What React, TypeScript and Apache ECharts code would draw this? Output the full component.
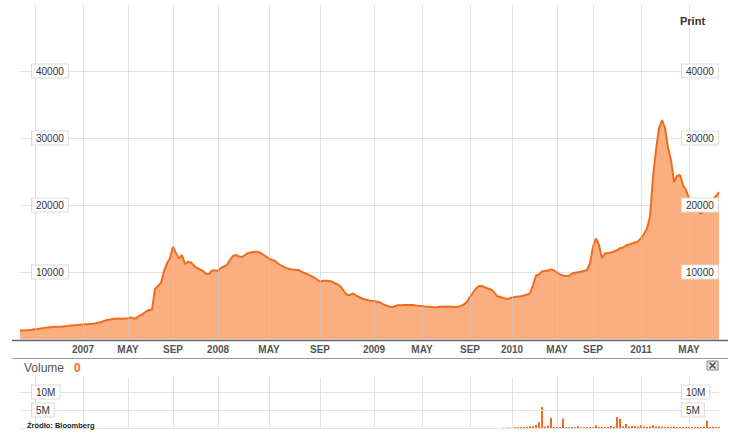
import React, { useEffect, useRef } from 'react';
import * as echarts from 'echarts';

// Price series: one value per sample (evenly spaced trading-time samples)
const prices: number[] = [
  1270, 1270, 1300, 1340, 1390, 1450, 1490, 1570, 1640, 1700,
  1750, 1790, 1820, 1840, 1870, 1910, 1940, 2010, 2060, 2090,
  2130, 2160, 2210, 2240, 2280, 2330, 2420, 2540, 2690, 2840,
  2900, 2990, 3040, 3060, 3040, 3070, 3060, 3210, 2990, 3210,
  3510, 3730, 4100, 4330, 4400, 7460, 7910, 8360, 10150, 11300,
  12040, 13780, 12790, 12010, 12540, 11190, 11540, 11420, 10970, 10600,
  10370, 10150, 9700, 9700, 10220, 10220, 10190, 10600, 10820, 11040,
  11790, 12390, 12540, 12310, 12240, 12540, 12840, 12910, 13030, 13030,
  12880, 12610, 12310, 12010, 11790, 11640, 11270, 10970, 10750, 10550,
  10400, 10360, 10300, 10300, 10000, 9810, 9630, 9400, 9180, 8880,
  8550, 8700, 8700, 8660, 8580, 8280, 8130, 7760, 7160, 6570,
  6570, 6820, 6490, 6270, 6040, 5900, 5790, 5720, 5670, 5570,
  5450, 5220, 5000, 4850, 4730, 4930, 5030, 5040, 5070, 5070,
  5070, 5070, 5000, 4960, 4930, 4850, 4820, 4780, 4730, 4730,
  4800, 4820, 4850, 4820, 4820, 4790, 4820, 4930, 5150, 5570,
  6270, 6940, 7540, 7910, 7910, 7690, 7540, 7390, 7010, 6420,
  6270, 6120, 6010, 6040, 6190, 6270, 6340, 6390, 6490, 6640,
  6820, 8060, 9480, 9630, 10070, 10150, 10220, 10400, 10220, 9930,
  9630, 9480, 9400, 9400, 9780, 9900, 9970, 10030, 10150, 10300,
  11300, 13780, 15000, 14030, 12040, 12790, 12840, 12910, 13060, 13280,
  13540, 13660, 13950, 14100, 14250, 14400, 14550, 15070, 15670, 16520,
  18250, 24180, 28210, 31490, 32690, 31490, 28510, 26720, 23430, 24330,
  24480, 22990, 22240, 21040, 20450, 19850, 19250, 18660, 19250, 19850,
  20450, 20900, 21340, 21940,
];

// Volume in millions, same samples
const volumesM: number[] = [
  0, 0, 0, 0, 0, 0, 0, 0, 0, 0, 0, 0, 0, 0, 0, 0, 0, 0, 0, 0,
  0, 0, 0, 0, 0, 0, 0, 0, 0, 0, 0, 0, 0, 0, 0, 0, 0, 0, 0, 0,
  0, 0, 0, 0, 0, 0, 0, 0, 0, 0, 0, 0, 0, 0, 0, 0, 0, 0, 0, 0,
  0, 0, 0, 0, 0, 0, 0, 0, 0, 0, 0, 0, 0, 0, 0, 0, 0, 0, 0, 0,
  0, 0, 0, 0, 0, 0, 0, 0, 0, 0, 0, 0, 0, 0, 0, 0, 0, 0, 0, 0,
  0, 0, 0, 0, 0, 0, 0, 0, 0, 0, 0, 0, 0, 0, 0, 0, 0, 0, 0, 0,
  0, 0, 0, 0, 0, 0, 0, 0, 0, 0, 0, 0, 0, 0, 0, 0, 0, 0, 0, 0,
  0, 0, 0, 0, 0, 0, 0, 0, 0, 0, 0, 0, 0, 0, 0, 0, 0, 0, 0, 0,
  0,
  0.1, 0.1, 0.15, 0.1, 0.2, 0.3, 0.25, 0.3, 0.35, 0.5,
  0.5, 0.8, 1.6, 5.8, 0.4, 0.65, 2.8, 0.3, 0.25, 0.3,
  2.6, 0.2, 0.2, 0.25, 0.2, 0.55, 0.2, 0.2, 0.25, 0.3,
  0.2, 0.75, 0.3, 0.3, 0.25, 0.3, 0.55, 0.35, 3.0, 2.5,
  0.4, 1.1, 0.4, 0.55, 0.55, 0.35, 0.75, 0.4, 0.3, 0.4,
  0.75, 0.4, 0.5, 0.35, 0.3, 0.35, 0.3, 0.4, 0.3, 0.25,
  0.3, 0.35, 0.25, 0.3, 0.3, 0.25, 0.3, 0.4, 2.0, 0.3,
  0.35, 0.3, 0.3,
];

// Sample index of each month gridline and its label
const tickIndex: number[] = [5, 21, 36, 51, 66, 83, 100, 118, 134, 150, 164, 179, 191, 207, 223];
const tickLabels: string[] = ['', '2007', 'MAY', 'SEP', '2008', 'MAY', 'SEP', '2009', 'MAY', 'SEP', '2010', 'MAY', 'SEP', '2011', 'MAY'];

const FONT = '"Liberation Sans", Arial, Helvetica, sans-serif';
const LINE = '#f26b1d';
const FILL = '#fbaf80';

export default function App() {
  const ref = useRef<HTMLDivElement>(null);
  useEffect(() => {
    const chart = echarts.init(ref.current!, null, { renderer: 'svg' });
    const categories = prices.map((_, i) => {
      const k = tickIndex.indexOf(i);
      return k >= 0 ? tickLabels[k] : '';
    });
    const isTick = (i: number) => tickIndex.includes(i);
    const labelBox = {
      color: '#333',
      fontFamily: FONT,
      fontSize: 10,
      lineHeight: 11,
      backgroundColor: '#fff',
      borderColor: '#dcdcdc',
      borderWidth: 1,
      padding: [1, 4, 1, 4],
    };
    const plain = (v: number) => String(v);
    const mil = (v: number) => v + 'M';
    const vSplit = { show: true, interval: isTick, lineStyle: { color: '#c8c8c8', opacity: 0.55, width: 1 } };
    const hide = { show: false };
    chart.setOption({
      animation: false,
      grid: [
        { left: 20, right: 23, top: 4, height: 335 },
        { left: 20, right: 23, top: 377.6, height: 50.4 },
      ],
      xAxis: [
        {
          type: 'category', gridIndex: 0, data: categories, boundaryGap: false, z: 3,
          axisLine: hide, axisTick: hide,
          axisLabel: { interval: isTick, color: '#555', fontFamily: FONT, fontWeight: 'bold', fontSize: 10, margin: 5 },
          splitLine: vSplit,
        },
        {
          type: 'category', gridIndex: 1, data: categories, boundaryGap: false, z: 3,
          axisLine: hide, axisTick: hide, axisLabel: hide,
          splitLine: vSplit,
        },
      ],
      yAxis: [
        {
          type: 'value', gridIndex: 0, position: 'left', min: 0, max: 50000, interval: 10000, z: 5,
          axisLine: hide, axisTick: hide, splitLine: hide,
          axisLabel: { ...labelBox, inside: true, margin: 12, showMinLabel: false, showMaxLabel: false, formatter: plain },
        },
        {
          type: 'value', gridIndex: 0, position: 'right', min: 0, max: 50000, interval: 10000, z: 5,
          axisLine: hide, axisTick: hide, splitLine: hide,
          axisLabel: { ...labelBox, inside: true, margin: 37, align: 'left', showMinLabel: false, showMaxLabel: false, formatter: plain },
        },
        {
          type: 'value', gridIndex: 0, position: 'left', min: 0, max: 50000, interval: 10000, z: 0,
          axisLine: hide, axisTick: hide, axisLabel: hide,
          splitLine: { show: true, lineStyle: { color: ['#e2e2e2', '#e2e2e2', '#e2e2e2', '#e2e2e2', '#e2e2e2', 'rgba(0,0,0,0)'], width: 1 } },
        },
        {
          type: 'value', gridIndex: 1, position: 'left', min: 0, max: 14, interval: 5, z: 5,
          axisLine: hide, axisTick: hide,
          splitLine: { show: true, lineStyle: { color: ['#e2e2e2', '#e2e2e2', '#e2e2e2', 'rgba(0,0,0,0)'], width: 1 } },
          axisLabel: { ...labelBox, inside: true, margin: 12, showMinLabel: false, showMaxLabel: false, formatter: mil },
        },
        {
          type: 'value', gridIndex: 1, position: 'right', min: 0, max: 14, interval: 5, z: 5,
          axisLine: hide, axisTick: hide, splitLine: hide,
          axisLabel: { ...labelBox, inside: true, margin: 37, align: 'left', showMinLabel: false, showMaxLabel: false, formatter: mil },
        },
      ],
      series: [
        {
          type: 'line', xAxisIndex: 0, yAxisIndex: 0, data: prices, symbol: 'none', z: 2,
          lineStyle: { color: LINE, width: 2 },
          areaStyle: { color: FILL, opacity: 1 },
        },
        {
          type: 'bar', xAxisIndex: 1, yAxisIndex: 3, data: volumesM, barWidth: 2, z: 2,
          itemStyle: { color: LINE },
        },
      ],
      graphic: [
        { type: 'line', z: 10, shape: { x1: 12, y1: 340.5, x2: 728, y2: 340.5 }, style: { stroke: '#666', lineWidth: 1.5 } },
        { type: 'line', z: 10, shape: { x1: 12, y1: 358.5, x2: 728, y2: 358.5 }, style: { stroke: '#999', lineWidth: 1 } },
        { type: 'text', z: 10, x: 680, y: 21, style: { text: 'Print', fill: '#333', fontSize: 11, fontWeight: 'bold', fontFamily: FONT, verticalAlign: 'middle' } },
        { type: 'text', z: 10, x: 24, y: 368, style: { text: 'Volume', fill: '#555', fontSize: 12, fontFamily: FONT, verticalAlign: 'middle' } },
        { type: 'text', z: 10, x: 74, y: 368, style: { text: '0', fill: LINE, fontSize: 12, fontWeight: 'bold', fontFamily: FONT, verticalAlign: 'middle' } },
        { type: 'rect', z: 10, shape: { x: 707, y: 361, width: 11, height: 9 }, style: { fill: '#e4e4e4', stroke: '#888', lineWidth: 1 } },
        { type: 'line', z: 11, shape: { x1: 709.5, y1: 362.5, x2: 715.5, y2: 368.5 }, style: { stroke: '#444', lineWidth: 1.2 } },
        { type: 'line', z: 11, shape: { x1: 715.5, y1: 362.5, x2: 709.5, y2: 368.5 }, style: { stroke: '#444', lineWidth: 1.2 } },
        { type: 'text', z: 10, x: 27, y: 425, style: { text: 'Źródło: Bloomberg', fill: '#222', fontSize: 7.5, fontWeight: 'bold', fontFamily: FONT, verticalAlign: 'middle' } },
      ],
    });
    return () => chart.dispose();
  }, []);
  return <div ref={ref} style={{ position: 'absolute', left: 0, top: 0, width: 742, height: 435 }} />;
}
